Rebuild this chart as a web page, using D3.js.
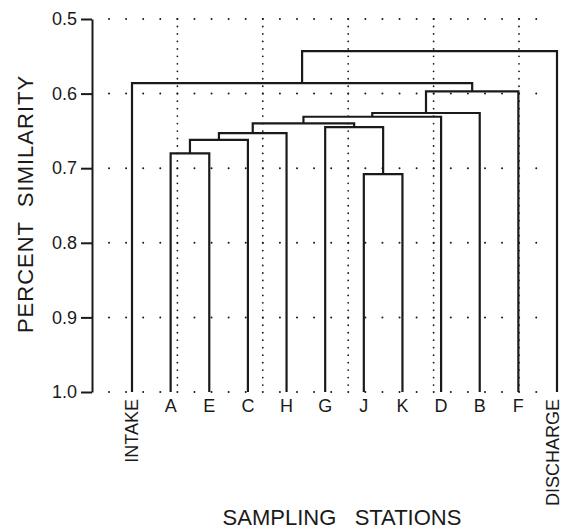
<!DOCTYPE html>
<html>
<head>
<meta charset="utf-8">
<script src="https://cdn.jsdelivr.net/npm/d3@7"></script>
<style>
	body { margin: 0; background: #fff; }
	text { font-family: "Liberation Sans", Arial, sans-serif; fill: #1a1a1a; }
</style>
</head>
<body>
<script>
// stations along the bottom, left to right
var stations = ["INTAKE", "A", "E", "C", "H", "G", "J", "K", "D", "B", "F", "DISCHARGE"];

// each join: left member, right member (station name or index of an earlier join), similarity level
var joinLeft  = ["A",   0,     1,     "J",   "G",   2,     5,     6,     7,     "INTAKE", 9];
var joinRight = ["E",   "C",   "H",   "K",   3,     4,     "D",   "B",   "F",   8,        "DISCHARGE"];
var joinLevel = [0.680, 0.662, 0.653, 0.708, 0.645, 0.640, 0.631, 0.626, 0.597, 0.586,    0.543];

var yTicks = [0.5, 0.6, 0.7, 0.8, 0.9, 1.0];
var gridCols = [1, 2, 3, 4, 5];

var width = 564, height = 529;
var ink = "#1a1a1a";

var svg = d3.select("body").append("svg")
	.attr("width", width)
	.attr("height", height);

var y = d3.scaleLinear().domain([0.5, 1.0]).range([19, 392]);
var x = d3.scalePoint().domain(stations).range([132, 557]);
var gx = d3.scaleLinear().domain([0, 5]).range([92, 519]);

// dotted grid
var grid = svg.append("g").attr("class", "grid");

grid.selectAll("line.h")
	.data(yTicks)
	.enter().append("line")
	.attr("class", "h")
	.attr("x1", 109).attr("x2", 552)
	.attr("y1", function(d) { return y(d); })
	.attr("y2", function(d) { return y(d); })
	.attr("stroke", ink)
	.attr("stroke-width", 2)
	.attr("stroke-linecap", "round")
	.attr("stroke-dasharray", "0.01 17.08");

grid.selectAll("line.v")
	.data(gridCols)
	.enter().append("line")
	.attr("class", "v")
	.attr("x1", function(d) { return gx(d); })
	.attr("x2", function(d) { return gx(d); })
	.attr("y1", y(0.5)).attr("y2", y(1.0))
	.attr("stroke", ink)
	.attr("stroke-width", 1.8)
	.attr("stroke-linecap", "round")
	.attr("stroke-dasharray", "0.01 7.46");

// y axis
var yAxis = d3.axisLeft(y)
	.tickValues(yTicks)
	.tickFormat(d3.format(".1f"))
	.tickSize(11)
	.tickSizeOuter(0)
	.tickPadding(4);

var ax = svg.append("g")
	.attr("transform", "translate(92,0)")
	.call(yAxis);
ax.select(".domain").attr("stroke", ink).attr("stroke-width", 2);
ax.selectAll(".tick line").attr("stroke", ink).attr("stroke-width", 2);
ax.selectAll(".tick text")
	.attr("font-size", 18)
	.attr("font-family", "Liberation Sans, Arial, sans-serif")
	.attr("fill", ink);

// dendrogram
var leaves = {};
stations.forEach(function(s) { leaves[s] = { x: x(s), h: 1.0 }; });
var joins = [];

function member(v) {
	if (typeof v === "number") return joins[v];
	return leaves[v];
}

var tree = svg.append("g").attr("class", "tree");

for (var i = 0; i < joinLevel.length; i++) {
	var l = member(joinLeft[i]);
	var r = member(joinRight[i]);
	var h = joinLevel[i];
	joins.push({ x: (l.x + r.x) / 2, h: h });

	tree.append("path")
		.attr("d", "M" + l.x + "," + y(l.h) + "V" + y(h) + "H" + r.x + "V" + y(r.h))
		.attr("fill", "none")
		.attr("stroke", ink)
		.attr("stroke-width", 2.2);
}

// station labels
var labels = svg.append("g").attr("class", "labels");

labels.selectAll("text.short")
	.data(stations.filter(function(s) { return s.length === 1; }))
	.enter().append("text")
	.attr("class", "short")
	.attr("x", function(d) { return x(d); })
	.attr("y", 412)
	.attr("text-anchor", "middle")
	.attr("font-size", 18)
	.text(function(d) { return d; });

// long names stand on end; keep the last one inside the page edge
labels.selectAll("text.long")
	.data(stations.filter(function(s) { return s.length > 1; }))
	.enter().append("text")
	.attr("class", "long")
	.attr("transform", function(d) {
		var bx = Math.min(x(d) + 5.5, width - 5);
		return "translate(" + bx + ",399) rotate(-90)";
	})
	.attr("text-anchor", "end")
	.attr("font-size", 18)
	.text(function(d) { return d; });

// axis titles
svg.append("text")
	.attr("x", 342)
	.attr("y", 525)
	.attr("text-anchor", "middle")
	.attr("font-size", 22)
	.style("white-space", "pre")
	.text("SAMPLING   STATIONS");

svg.append("text")
	.attr("transform", "translate(33,204) rotate(-90)")
	.attr("text-anchor", "middle")
	.attr("font-size", 22)
	.attr("letter-spacing", 1)
	.style("white-space", "pre")
	.text("PERCENT  SIMILARITY");
</script>
</body>
</html>
